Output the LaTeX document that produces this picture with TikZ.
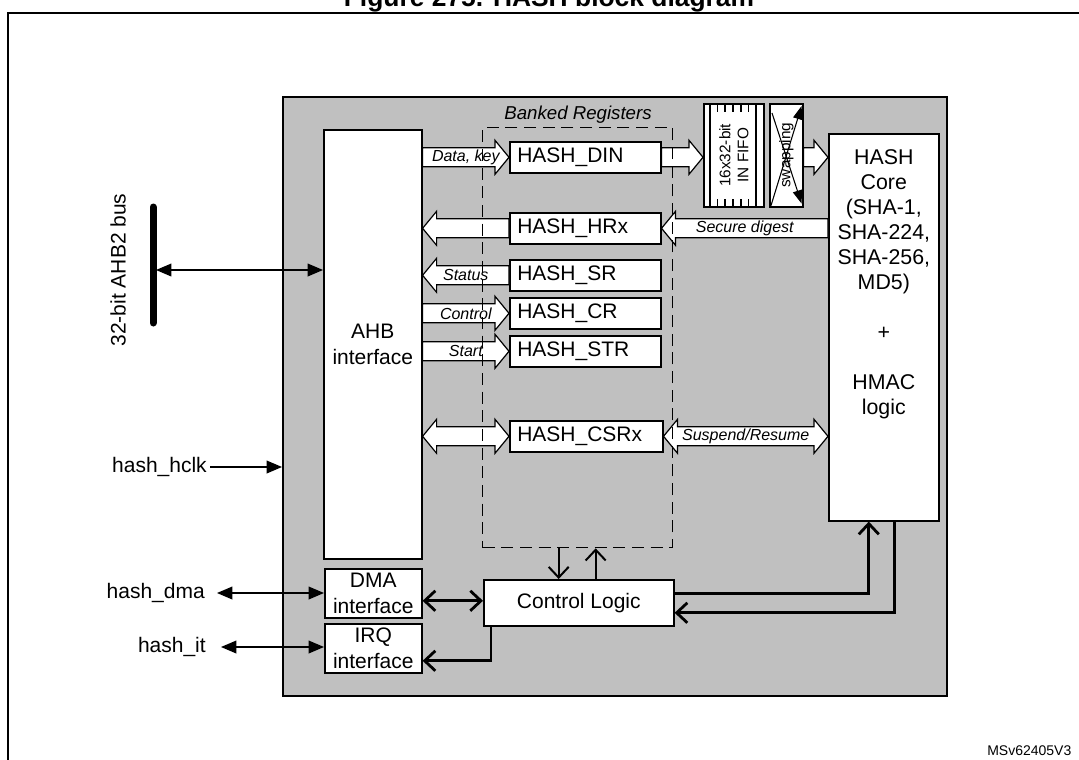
\documentclass[tikz,border=0pt]{standalone}
\usepackage{fontspec}
\setmainfont{Liberation Sans}
\usetikzlibrary{arrows.meta,calc}
\definecolor{grayfill}{RGB}{192,192,192}
\newcommand\fsz[2]{\fontsize{#1}{#2}\selectfont}
\newcommand\mainfs{\fsz{15.75pt}{19.5pt}}
\newcommand\itfs{\fsz{12pt}{14pt}\itshape}
\def\bsh{7.1pt}\def\bhh{12.75pt}\def\bhl{10.5pt}
% block arrow pointing right (head at #2)
\newcommand\blkR[3]{\draw[blk] let \p1=#1, \p2=#2 in (\x1,\y1+\bsh) -- (\x2-\bhl,\y1+\bsh) -- (\x2-\bhl,\y1+\bhh) -- (\x2,\y1) -- (\x2-\bhl,\y1-\bhh) -- (\x2-\bhl,\y1-\bsh) -- (\x1,\y1-\bsh) -- cycle (0.5*\x1+0.5*\x2,\y1) node[lab]{#3};}
% block arrow pointing left (head at #2)
\newcommand\blkL[3]{\draw[blk] let \p1=#1, \p2=#2 in (\x1,\y1+\bsh) -- (\x2+\bhl,\y1+\bsh) -- (\x2+\bhl,\y1+\bhh) -- (\x2,\y1) -- (\x2+\bhl,\y1-\bhh) -- (\x2+\bhl,\y1-\bsh) -- (\x1,\y1-\bsh) -- cycle (0.5*\x1+0.5*\x2,\y1) node[lab]{#3};}
% double block arrow (#1 left, #2 right)
\newcommand\blkD[3]{\draw[blk] let \p1=#1, \p2=#2 in (\x1,\y1) -- (\x1+\bhl,\y1+\bhh) -- (\x1+\bhl,\y1+\bsh) -- (\x2-\bhl,\y1+\bsh) -- (\x2-\bhl,\y1+\bhh) -- (\x2,\y1) -- (\x2-\bhl,\y1-\bhh) -- (\x2-\bhl,\y1-\bsh) -- (\x1+\bhl,\y1-\bsh) -- (\x1+\bhl,\y1-\bhh) -- cycle (0.5*\x1+0.5*\x2,\y1) node[lab]{#3};}
\begin{document}
\begin{tikzpicture}[x=0.75pt,y=-0.75pt,
  wbox/.style={draw, fill=white, line width=1.2pt, anchor=north west, inner sep=1pt, align=center, font=\mainfs},
  reg/.style={wbox, align=left, text width=102pt, inner xsep=5.6pt, inner ysep=1pt, minimum height=23.25pt},
  blk/.style={draw, fill=white, line width=0.9pt, line join=miter},
  lab/.style={font=\itfs, inner sep=0pt},
  lbl/.style={font=\mainfs, inner sep=0pt},
  tarr/.style={line width=1.1pt, arrows={Triangle[length=11.5pt,width=9.5pt]-Triangle[length=11.5pt,width=9.5pt]}},
  tarrR/.style={line width=1.1pt, arrows={-Triangle[length=11.5pt,width=9.5pt]}},
  thk/.style={line width=2.1pt},
  midw/.style={line width=1.5pt},
  barb/.style={arrows={-Straight Barb[length=8pt,width=15pt]}},
  barbb/.style={arrows={Straight Barb[length=8pt,width=15pt]-Straight Barb[length=8pt,width=15pt]}}
]
\useasboundingbox (0,0) rectangle (1079,760);
\fill[white] (0,0) rectangle (1079,760);

% title (cut at the top) and outer frame
\node[anchor=base, font=\bfseries\fsz{19.8pt}{22pt}, inner sep=0] (title) at (549,7) {Figure 275. HASH block diagram};
\draw[line width=1.5pt] (1090,13) -- (8,13) -- (8,775);

% gray block
\node[draw, fill=grayfill, line width=1.5pt, anchor=north west, inner sep=0, minimum width=498pt, minimum height=449.25pt] (gray) at (282,96) {};

% main boxes
\node[wbox, minimum width=73.5pt, minimum height=321.75pt] (ahb) at (323,129) {AHB\\interface};
\node[wbox, minimum width=72.75pt, minimum height=36.75pt] (dma) at (324,568) {DMA\\interface};
\node[wbox, minimum width=72.75pt, minimum height=36.75pt] (irq) at (324,623) {IRQ\\interface};
\node[wbox, minimum width=142.5pt, minimum height=34.5pt] (cl) at (483,579) {Control Logic};
\node[wbox, minimum width=82.5pt, minimum height=290.25pt] (core) at (828,133) {};
\node[font=\fsz{16pt}{18.75pt}, align=center, anchor=north, inner sep=0] (coretxt) at ([yshift=-12pt]core.north) {HASH\\Core\\(SHA-1,\\SHA-224,\\SHA-256,\\MD5)\\[18.75pt]+\\[18.75pt]HMAC\\logic};

% registers
\node[reg] (din) at (509,141) {HASH\_DIN};
\node[reg] (hrx) at (509,212) {HASH\_HRx};
\node[reg] (sr) at (509,259) {HASH\_SR};
\node[reg] (cr) at (509,297) {HASH\_CR};
\node[reg] (str) at (509,335) {HASH\_STR};
\node[reg, text width=103.5pt] (csr) at (509,420) {HASH\_CSRx};

% FIFO
\node[wbox, minimum width=45pt, minimum height=77.25pt, inner sep=0] (fifo) at (703,103) {};
\foreach \dx in {7,53} \draw[line width=0.9pt] ($(fifo.north west)+(\dx,0)$) -- ($(fifo.south west)+(\dx,0)$);
\foreach \dx in {14.5,22,30,38,45.5} {
  \draw[line width=0.9pt] ($(fifo.north west)+(\dx,0)$) -- ++(0,9);
  \draw[line width=0.9pt] ($(fifo.south west)+(\dx,0)$) -- ++(0,-9);
}
\node[rotate=90, align=center, font=\fsz{11.5pt}{13.5pt}, inner sep=0] (fifotxt) at (fifo.center) {16x32-bit\\IN FIFO};

% swapping
\node[wbox, minimum width=24.75pt, minimum height=77.25pt, inner sep=0] (swap) at (769,103) {};
\node[rotate=90, font=\fsz{11.5pt}{13.5pt}, inner sep=0] (swaptxt) at (swap.center) {swapping};
\draw[line width=0.8pt, arrows={-Triangle[length=10pt,width=7pt]}] ($(swap.south west)+(2,-2)$) -- ($(swap.north east)+(-2,3)$);
\draw[line width=0.8pt, arrows={-Triangle[length=10pt,width=7pt]}] ($(swap.north west)+(3,10)$) -- ($(swap.south east)+(-2,-4)$);

% block arrows
\blkR{(ahb.east |- din.west)}{(din.west)}{Data, key}
\blkR{(din.east)}{(fifo.west |- din.east)}{}
\blkR{(swap.east |- din.east)}{(core.west |- din.east)}{}
\blkL{(hrx.west)}{(ahb.east |- hrx.west)}{}
\blkL{(core.west |- hrx.east)}{(hrx.east)}{Secure digest}
\blkL{(sr.west)}{(ahb.east |- sr.west)}{Status}
\blkR{(ahb.east |- cr.west)}{(cr.west)}{Control}
\blkR{(ahb.east |- str.west)}{(str.west)}{Start}
\blkD{(ahb.east |- csr.west)}{(csr.west)}{}
\blkD{(csr.east)}{(core.west |- csr.east)}{Suspend/Resume}

% banked registers (dashed)
\node[draw, dash pattern=on 9pt off 5pt, line width=1pt, anchor=north west, inner sep=0, minimum width=142.5pt, minimum height=315pt] (bank) at (482,127) {};
\node[font=\fsz{14pt}{16pt}\itshape, inner sep=0] (banktxt) at (578,115) {Banked Registers};

% control logic connections
\coordinate (b1) at ($(bank.south)+(-19,0)$);
\coordinate (b2) at ($(bank.south)+(18,0)$);
\draw[midw, barb] (b1) -- (b1 |- cl.north);
\draw[midw, barb] (b2 |- cl.north) -- (b2);
\coordinate (c1) at ($(cl.east)+(0,-9)$);
\coordinate (c2) at ($(core.south)+(-15,0)$);
\draw[thk, barb] (c1) -| (c2);
\coordinate (c3) at ($(core.south)+(11,0)$);
\coordinate (c4) at ($(cl.east)+(0,10)$);
\draw[thk, barb] (c3) |- (c4);
\coordinate (c5) at ($(cl.west)+(0,-2)$);
\draw[thk, barbb] (dma.east |- c5) -- (c5);
\coordinate (c6) at ($(cl.south west)+(8,0)$);
\coordinate (c7) at ($(irq.east)+(0,12.5)$);
\draw[thk, barb] (c6) |- (c7);

% bus
\coordinate (bustop) at (153,207);
\coordinate (busbot) at (153,323);
\draw[line width=5.25pt, line cap=round] (bustop) -- (busbot);
\coordinate (busmid) at (156,270);
\draw[tarr] (busmid) -- (ahb.west |- busmid);
\node[lbl, rotate=90] (buslbl) at (118,270) {32-bit AHB2 bus};

% external signals
\node[lbl, anchor=east] (hclk) at (207,467) {hash\_hclk};
\draw[tarrR] ([xshift=2.5pt]hclk.east) -- (gray.west |- hclk.east);
\node[lbl, anchor=east] (hdma) at (205,593) {hash\_dma};
\draw[tarr] ([xshift=9pt]hdma.east) -- (dma.west |- hdma.east);
\node[lbl, anchor=east] (hit) at (206,647) {hash\_it};
\draw[tarr] ([xshift=11.25pt]hit.east) -- (irq.west |- hit.east);

% reference code
\node[anchor=west, font=\fsz{10.5pt}{12pt}, inner sep=0] (code) at (987,751) {MSv62405V3};
\end{tikzpicture}
\end{document}
